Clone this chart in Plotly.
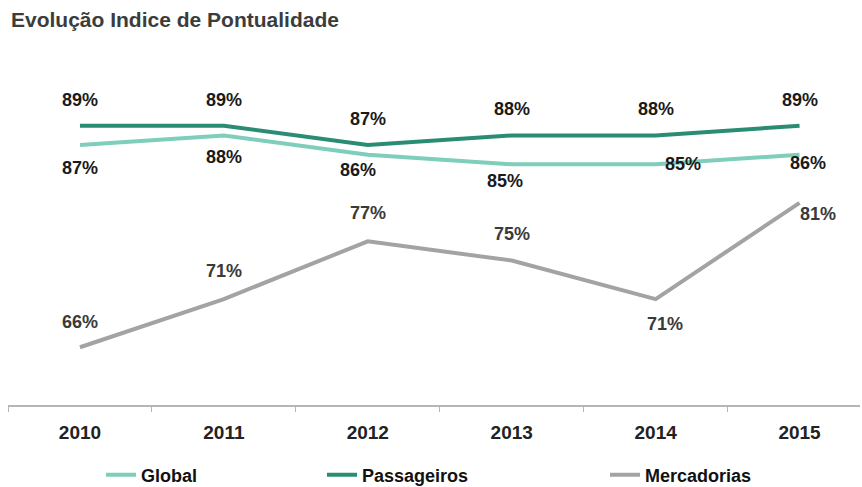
import plotly.graph_objects as go

years = ["2010", "2011", "2012", "2013", "2014", "2015"]
global_vals = [87, 88, 86, 85, 85, 86]
passageiros_vals = [89, 89, 87, 88, 88, 89]
mercadorias_vals = [66, 71, 77, 75, 71, 81]

title_text = "Evolução Indice de Pontualidade"

FONT = "Liberation Sans, Arial, sans-serif"

fig = go.Figure()

series = [
    ("Global", global_vals, "#7fcdbb", "legend"),
    ("Passageiros", passageiros_vals, "#2b8c74", "legend2"),
    ("Mercadorias", mercadorias_vals, "#a3a3a3", "legend3"),
]
for name, vals, color, lg in series:
    fig.add_trace(go.Scatter(
        x=years, y=vals, name=name, mode="lines",
        line=dict(color=color, width=4),
        legend=lg, hoverinfo="skip",
    ))

# label offsets (px) per series / point
pass_off = [(0, 26)] * 6
glob_off = [(0, -23), (0, -22), (-10, -15), (-7, -17), (27, 0), (8, -8)]
merc_off = [(0, 25), (0, 28), (0, 28), (0, 27), (9, -25), (18, -11)]

plot_left, plot_right, plot_top, plot_bottom = 8, 860, 68, 405
W, H = 862, 487
pw, ph = plot_right - plot_left, plot_bottom - plot_top

anns = []
for vals, offs, col in [(passageiros_vals, pass_off, "#1a1a1a"),
                        (global_vals, glob_off, "#1a1a1a"),
                        (mercadorias_vals, merc_off, "#3a3a3a")]:
    for i, (v, (dx, dy)) in enumerate(zip(vals, offs)):
        anns.append(dict(
            x=i, y=v, xref="x", yref="y", text=f"{v}%", showarrow=False,
            xshift=dx, yshift=dy,
            font=dict(family=FONT, size=18, color=col, weight="bold"),
        ))

anns.append(dict(
    x=(9 - plot_left) / pw, y=(plot_bottom - 20) / ph,
    xref="paper", yref="paper", text=title_text,
    showarrow=False, xanchor="left", yanchor="middle",
    font=dict(family=FONT, size=21, color="#3c3c3c", weight="bold"),
))

def lx(px):
    return (px - plot_left) / pw

ly = (plot_bottom - 475) / ph
legend_font = dict(family=FONT, size=18, color="#111111", weight="bold")

def legend_cfg(px):
    return dict(x=lx(px), y=ly, xanchor="left", yanchor="middle",
                orientation="h", font=legend_font, bgcolor="rgba(0,0,0,0)",
                borderwidth=0, itemwidth=30)

fig.update_layout(
    width=W, height=H,
    margin=dict(l=plot_left, r=W - plot_right, t=plot_top, b=H - plot_bottom,
                autoexpand=False),
    plot_bgcolor="white", paper_bgcolor="white",
    showlegend=True,
    legend=legend_cfg(101),
    legend2=legend_cfg(322),
    legend3=legend_cfg(605),
    annotations=anns,
    xaxis=dict(
        type="category", range=[-0.5, 5.42], showgrid=False, zeroline=False,
        showline=True, linecolor="#b5b5b5", linewidth=1.5, automargin=False,
        ticks="outside", tickson="boundaries", ticklen=5, tickcolor="#b5b5b5",
        tickfont=dict(family=FONT, size=19, color="#222222", weight="bold"),
        ticklabelstandoff=9,
    ),
    yaxis=dict(range=[60, 95], showticklabels=False, showline=False, ticks="",
               showgrid=False, zeroline=False, automargin=False),
)

fig.write_html("out.html",
               config={"displayModeBar": False},
               post_script="document.body.style.margin='0';"
                           "document.body.style.overflow='hidden';")
